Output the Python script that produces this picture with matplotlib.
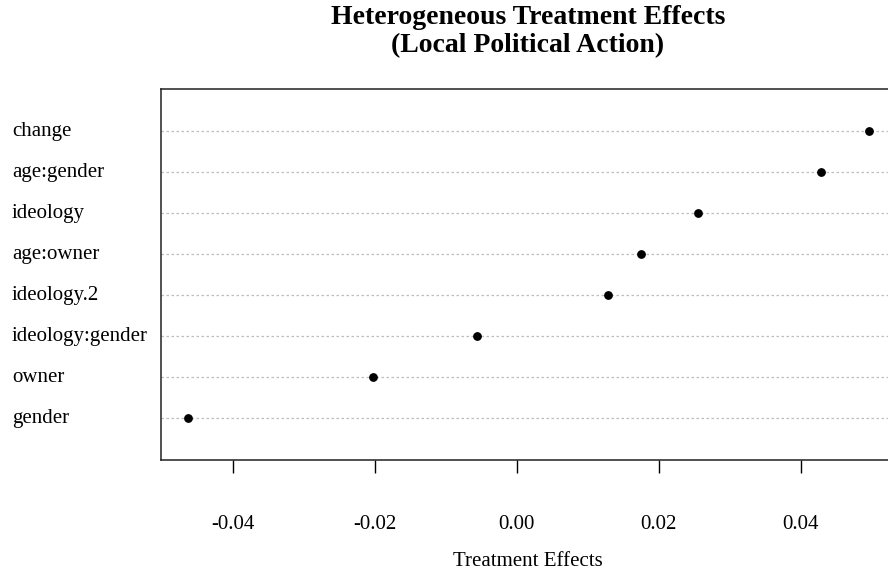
import numpy as np
import matplotlib
matplotlib.use("Agg")
import matplotlib.pyplot as plt
from matplotlib.transforms import blended_transform_factory

# --- data (bottom to top, as in the dotchart) ---
labels = ["gender", "owner", "ideology:gender", "ideology.2",
          "age:owner", "ideology", "age:gender", "change"]
effects = [-0.0463, -0.0203, -0.0056, 0.0128, 0.0175, 0.0255, 0.0428, 0.0496]
xticks = [-0.04, -0.02, 0.00, 0.02, 0.04]
xtick_labels = ["-0.04", "-0.02", "0.00", "0.02", "0.04"]

plt.rcParams['font.family'] = ['Liberation Serif', 'DejaVu Serif']

W, H = 888, 571
fig = plt.figure(figsize=(W / 100, H / 100), dpi=100)
# box from x=161 to 896 (cut off on the right), y=89 to 460
ax = fig.add_axes([161 / W, 1 - 460 / H, (896 - 161) / W, (460 - 89) / H])

ypos = np.arange(1, len(labels) + 1)
for y in ypos:
    ax.axhline(y, color='#bdbdbd', linestyle=(0, (2, 2)), linewidth=0.9, zorder=1)
ax.plot(effects, ypos, 'o', color='black', markersize=5.3, zorder=3)

span = max(effects) - min(effects)
ax.set_xlim(min(effects) - 0.04 * span, max(effects) + 0.04 * span)
ax.set_ylim(-0.02, len(labels) + 1.03)

ax.set_yticks([])
ax.set_xticks(xticks)
ax.set_xticklabels(xtick_labels, fontsize=15)
ax.tick_params(axis='x', length=9.5, width=1, pad=30, colors='black')
for s in ax.spines.values():
    s.set_linewidth(1.1)
    s.set_color('#222222')

trans = blended_transform_factory(fig.transFigure, ax.transData)
for y, lab in zip(ypos, labels):
    ax.text(12 / W, y, lab, transform=trans, ha='left', va='center', fontsize=15)

fig.text(528 / W, 1 - 18 / H, "Heterogeneous Treatment Effects",
         ha='center', va='center', fontsize=20, fontweight='bold')
fig.text(528 / W, 1 - 46 / H, "(Local Political Action)",
         ha='center', va='center', fontsize=20, fontweight='bold')
fig.text(528 / W, 1 - 561 / H, "Treatment Effects", ha='center', va='center', fontsize=15)

fig.savefig("out.png", dpi=100)
